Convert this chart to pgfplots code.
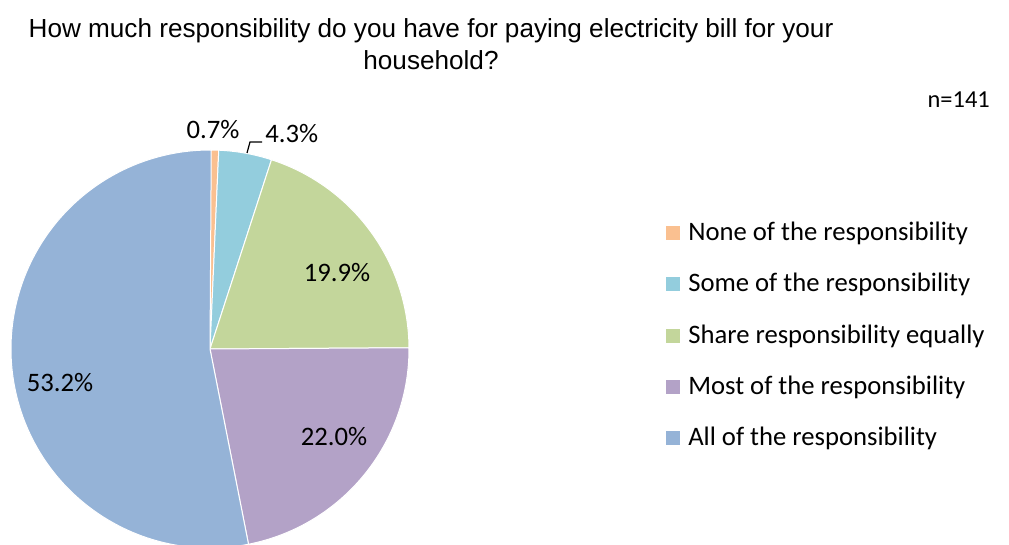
\documentclass[border=0pt]{standalone}
\usepackage{pgfplots}
\usepackage{pgfplotstable}
\pgfplotsset{compat=1.18}
\usepackage{fontspec}
\setmainfont{Carlito}
\newfontfamily\arial{Liberation Sans}
\definecolor{cNone}{HTML}{FAC090}
\definecolor{cSome}{HTML}{93CDDD}
\definecolor{cShare}{HTML}{C3D69B}
\definecolor{cMost}{HTML}{B3A2C7}
\definecolor{cAll}{HTML}{95B3D7}
\pgfplotstableread{
value color
0.7 cNone
4.3 cSome
19.9 cShare
22.0 cMost
53.2 cAll
}\piedata
\begin{document}
\begin{tikzpicture}
\begin{axis}[scale only axis, width=756.75pt, height=408.75pt,
  xmin=0, xmax=1009, ymin=0, ymax=545, hide axis, clip=false]
\coordinate (SW) at (axis cs:0,0);
\coordinate (NE) at (axis cs:1009,545);
\def\startang{90}
\pgfplotsforeachungrouped \i in {0,...,4}{%
  \pgfplotstablegetelem{\i}{value}\of\piedata \let\v\pgfplotsretval
  \pgfplotstablegetelem{\i}{color}\of\piedata \let\c\pgfplotsretval
  \pgfmathsetmacro\endang{\startang-3.6*\v}%
  \edef\temp{\noexpand\fill[\c, draw=white, line width=0.75pt] (axis cs:210,196) -- ++(\startang:149.25pt) arc[start angle=\startang, end angle=\endang, radius=149.25pt] -- cycle;}%
  \temp
  \let\startang\endang
}
% data labels
\draw[black, line width=0.9pt] (axis cs:247,392) -- (axis cs:250,403) -- (axis cs:262,403);
\begin{scope}[every node/.style={font=\fontsize{20}{24}\selectfont, inner sep=0pt}]
\node at (axis cs:213,415) {0.7\%};
\node[anchor=west] at (axis cs:265,411) {4.3\%};
\node at (axis cs:337,272) {19.9\%};
\node at (axis cs:334,108) {22.0\%};
\node at (axis cs:60,162) {53.2\%};
\end{scope}
% title
\node[font=\arial\fontsize{19.6}{23}\selectfont, inner sep=0pt] at (axis cs:431,514) {How much responsibility do you have for paying electricity bill for your};
\node[font=\arial\fontsize{19.6}{23}\selectfont, inner sep=0pt] at (axis cs:431,485) {household?};
\node[font=\fontsize{18.3}{22}\selectfont, inner sep=0pt, anchor=east] at (axis cs:990,445) {n=141};
% legend
\foreach \y/\c/\t in {312/cNone/None of the responsibility,261/cSome/Some of the responsibility,209/cShare/Share responsibility equally,158/cMost/Most of the responsibility,107/cAll/All of the responsibility}{
  \edef\temp{\noexpand\fill[\c] (axis cs:666,\y-7) rectangle (axis cs:680,\y+7);
  \noexpand\node[anchor=west, inner sep=0pt, font=\noexpand\fontsize{20}{24}\noexpand\selectfont] at (axis cs:688,\y) {\t};}
  \temp
}
\end{axis}
\pgfresetboundingbox
\path[use as bounding box] (SW) rectangle (NE);
\end{tikzpicture}
\end{document}
